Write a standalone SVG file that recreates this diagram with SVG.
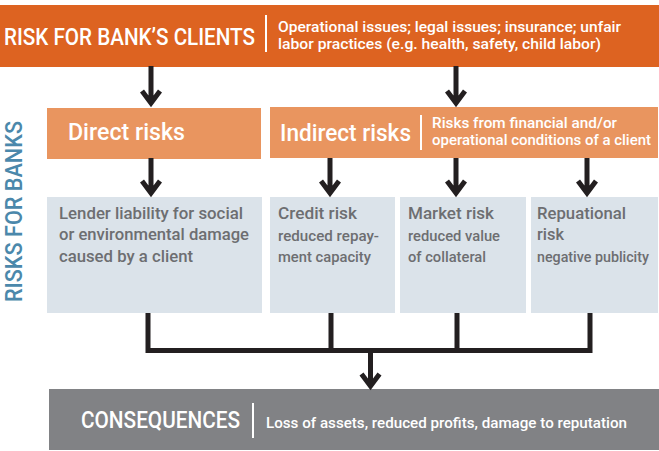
<svg xmlns="http://www.w3.org/2000/svg" width="659" height="451" viewBox="0 0 659 451">
<style>
.t{font-family:Roboto,"Liberation Sans",sans-serif;font-weight:500;}
.w{fill:#ffffff;}
.g{fill:#6d6e71;}
.div{stroke:#ffffff;stroke-width:2;fill:none;}
.con{stroke:#231f20;stroke-width:5;fill:none;stroke-linejoin:miter;stroke-miterlimit:10;}
</style>
<rect width="659" height="451" fill="#ffffff"/>
<g id="clients">
<rect x="0" y="5" width="659" height="62" fill="#dd6321"/>
<text class="t w" x="4" y="45" font-size="23" textLength="251" lengthAdjust="spacingAndGlyphs">RISK FOR BANK’S CLIENTS</text>
<line class="div" x1="266" y1="15" x2="266" y2="52"/>
<text class="t w" x="278" y="31.5" font-size="15.5" textLength="343" lengthAdjust="spacingAndGlyphs">Operational issues; legal issues; insurance; unfair</text>
<text class="t w" x="278" y="49" font-size="15.5" textLength="323" lengthAdjust="spacingAndGlyphs">labor practices (e.g. health, safety, child labor)</text>
</g>
<g id="risks-for-banks">
<text class="t" transform="translate(22,302) rotate(-90)" font-size="23" font-weight="400" fill="#4b88ab" textLength="181" lengthAdjust="spacingAndGlyphs">RISKS FOR BANKS</text>
</g>
<g id="direct">
<rect x="47" y="108" width="214" height="51" fill="#e9955f"/>
<text class="t w" x="68" y="140" font-size="24" textLength="117" lengthAdjust="spacingAndGlyphs">Direct risks</text>
</g>
<g id="indirect">
<rect x="270" y="107" width="388" height="51" fill="#e9955f"/>
<text class="t w" x="280" y="141" font-size="24" textLength="131" lengthAdjust="spacingAndGlyphs">Indirect risks</text>
<line class="div" x1="421" y1="115" x2="421" y2="150"/>
<text class="t w" x="432" y="128" font-size="15" textLength="185" lengthAdjust="spacingAndGlyphs">Risks  from financial and/or</text>
<text class="t w" x="432" y="145" font-size="15" textLength="219" lengthAdjust="spacingAndGlyphs">operational conditions of a client</text>
</g>
<g id="lender">
<rect x="47" y="197" width="215" height="116" fill="#dbe3ea"/>
<text class="t g" x="59" y="219" font-size="17" textLength="184" lengthAdjust="spacingAndGlyphs">Lender liability for social</text>
<text class="t g" x="59" y="240" font-size="17" textLength="190" lengthAdjust="spacingAndGlyphs">or environmental damage</text>
<text class="t g" x="59" y="262" font-size="17" textLength="134" lengthAdjust="spacingAndGlyphs">caused by a client</text>
</g>
<g id="credit">
<rect x="270" y="197" width="125" height="116" fill="#dbe3ea"/>
<text class="t g" x="278" y="219" font-size="17" textLength="79" lengthAdjust="spacingAndGlyphs">Credit risk</text>
<text class="t g" x="278" y="241" font-size="15.5" textLength="101" lengthAdjust="spacingAndGlyphs">reduced repay-</text>
<text class="t g" x="278" y="262" font-size="15.5" textLength="93" lengthAdjust="spacingAndGlyphs">ment capacity</text>
</g>
<g id="market">
<rect x="400" y="197" width="126" height="116" fill="#dbe3ea"/>
<text class="t g" x="408" y="219" font-size="17" textLength="86" lengthAdjust="spacingAndGlyphs">Market risk</text>
<text class="t g" x="408" y="241" font-size="15.5" textLength="92" lengthAdjust="spacingAndGlyphs">reduced value</text>
<text class="t g" x="408" y="262" font-size="15.5" textLength="78" lengthAdjust="spacingAndGlyphs">of collateral</text>
</g>
<g id="reputational">
<rect x="531" y="197" width="127" height="116" fill="#dbe3ea"/>
<text class="t g" x="537" y="219" font-size="17" textLength="89" lengthAdjust="spacingAndGlyphs">Repuational</text>
<text class="t g" x="537" y="240" font-size="17" textLength="27" lengthAdjust="spacingAndGlyphs">risk</text>
<text class="t g" x="537" y="262" font-size="15" textLength="112" lengthAdjust="spacingAndGlyphs">negative publicity</text>
</g>
<g id="consequences">
<rect x="49" y="389" width="610" height="61" fill="#818285"/>
<text class="t w" x="81" y="428" font-size="24" textLength="159" lengthAdjust="spacingAndGlyphs">CONSEQUENCES</text>
<line class="div" x1="253" y1="403" x2="253" y2="438"/>
<text class="t w" x="266" y="427.5" font-size="15.5" textLength="361" lengthAdjust="spacingAndGlyphs">Loss of assets, reduced profits, damage to reputation</text>
</g>
<g id="connectors" class="con">
<path d="M151,66 V102 M142,91 L151,103 L160,91"/>
<path d="M456,66 V102 M447,91 L456,103 L465,91"/>
<path d="M151,158 V192 M142,181 L151,193 L160,181"/>
<path d="M330,158 V192 M321,181 L330,193 L339,181"/>
<path d="M456,158 V192 M447,181 L456,193 L465,181"/>
<path d="M587,158 V192 M578,181 L587,193 L596,181"/>
<path d="M148,313 V350.5 M331,313 V350.5 M457,313 V350.5 M590,313 V350.5 M145.5,350.5 H592.5"/>
<path d="M370.5,350 V385 M361.5,374 L370.5,386 L379.5,374"/>
</g>
</svg>
